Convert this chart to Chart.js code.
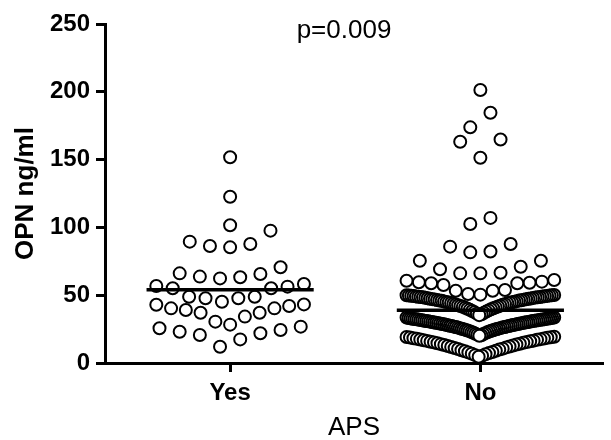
<!DOCTYPE html>
<html>
<head>
<meta charset="utf-8">
<script src="https://cdn.jsdelivr.net/npm/chart.js@4.4.1/dist/chart.umd.min.js"></script>
<style>
  html, body { margin: 0; padding: 0; background: #fff; }
  canvas { display: block; }
</style>
</head>
<body>
<canvas id="opn_aps" width="611" height="440"></canvas>
<script>
// Groups on the x axis
const groups = ['Yes', 'No'];
const x_title = 'APS';
const y_title = 'OPN ng/ml';
const p_text = 'p=0.009';

// OPN (ng/ml), APS = Yes
const opn_yes = [
  151.7, 122.6, 101.6, 97.6,
  87.8, 85.3, 86.3, 89.5,
  70.6, 65.6, 63.2, 62.4, 63.7, 66.1,
  56.8, 55.1, 55.1, 56.3, 58.3,
  48.9, 47.7, 45.2, 47.7, 48.9,
  43.0, 40.3, 39.1, 37.1, 30.5, 28.3, 34.2, 37.1, 40.3, 42.0, 43.2,
  25.6, 23.1, 20.6, 12.0, 17.4, 21.9, 24.3, 26.8
];

// OPN (ng/ml), APS = No
const opn_no = [
  201.3, 184.6, 173.8, 163.2, 164.8, 151.4,
  107.0, 102.5, 87.8, 85.8, 82.2, 81.6,
  75.4, 75.4, 71.0, 69.1, 66.6, 66.1, 66.1,
  61.2, 60.7, 60.0, 59.5, 59.2, 58.8, 58.8, 57.5, 53.8, 53.3, 53.3, 50.9, 50.4,
  50.1, 50.0, 49.9, 49.8, 49.7, 49.6, 49.5, 49.4, 49.3, 49.1,
  49.0, 48.9, 48.7, 48.6, 48.5, 48.4, 48.3, 48.1, 48.0, 47.8,
  47.6, 47.4, 47.3, 47.1, 47.0, 46.9, 46.7, 46.5, 46.3, 46.1,
  46.0, 45.9, 45.6, 45.4, 45.2, 45.0, 44.8, 44.7, 44.5, 44.2,
  44.0, 43.7, 43.4, 43.2, 42.9, 42.6, 42.3, 42.0, 41.7, 41.4,
  41.0, 40.7, 40.3, 40.0, 39.6, 39.2, 38.8, 38.4, 37.9, 37.5,
  37.0, 36.4, 35.9, 35.3,
  33.6, 33.5, 33.3, 33.2, 33.0, 32.9, 32.8, 32.7, 32.6, 32.5,
  32.3, 32.2, 32.1, 32.0, 31.9, 31.7, 31.6, 31.5, 31.4, 31.2,
  31.1, 31.0, 30.9, 30.7, 30.6, 30.5, 30.3, 30.2, 30.1, 29.9,
  29.8, 29.7, 29.5, 29.4, 29.2, 29.1, 28.9, 28.8, 28.6, 28.5,
  28.3, 28.2, 28.0, 27.8, 27.7, 27.5, 27.3, 27.2, 27.0, 26.8,
  26.6, 26.5, 26.3, 26.1, 25.9, 25.7, 25.5, 25.3, 25.1, 24.9,
  24.7, 24.4, 24.2, 24.0, 23.7, 23.5, 23.2, 22.9, 22.6, 22.3,
  22.0, 21.6, 21.3, 20.9, 20.5, 20.1,
  19.4, 19.2, 19.0, 18.8, 18.6, 18.3, 18.1, 17.8, 17.6, 17.3,
  17.1, 16.8, 16.5, 16.3, 16.0, 15.7, 15.4, 15.2, 14.9, 14.6,
  14.2, 13.9, 13.6, 13.3, 12.9, 12.5, 12.2, 11.8, 11.5, 11.0,
  10.6, 10.3, 9.9, 9.4, 9.0, 8.7, 8.1, 7.8, 7.3, 6.9,
  6.4, 5.8, 5.3, 4.6
];

const FONT = '"Liberation Sans", Arial, Helvetica, sans-serif';

// column scatter layout (rows of close values, spread sideways)
const ROW_H = 15;      // value units per row
const MAX_STEP = 20.5; // px between neighbours
const ROW_SPAN = 150;  // px, widest row
const LINE_HALF = 0.334;

function mean(arr) {
  return arr.reduce((s, v) => s + v, 0) / arr.length;
}

function columnScatter(values, center, xScale) {
  const sorted = [...values].sort((a, b) => a - b);
  const rows = [];
  let row = null;
  for (const v of sorted) {
    if (!row || v >= row.start + ROW_H) {
      row = {start: v, vals: []};
      rows.push(row);
    }
    row.vals.push(v);
  }
  const cx = xScale.getPixelForValue(center);
  const pts = [];
  rows.forEach(r => {
    const n = r.vals.length;
    const step = n > 1 ? Math.min(MAX_STEP, ROW_SPAN / (n - 1)) : 0;
    const rowPts = r.vals.map((v, i) => {
      let slot;
      if (n % 2) {
        slot = i === 0 ? 0 : Math.ceil(i / 2) * (i % 2 ? -1 : 1);
      } else {
        slot = (Math.floor(i / 2) + 0.5) * (i % 2 ? 1 : -1);
      }
      return {x: xScale.getValueForPixel(cx + slot * step), y: v};
    });
    // outer points first so inner ones sit on top
    pts.push(...rowPts.reverse());
  });
  return pts;
}

function meanLine(values, center) {
  const m = mean(values);
  return [{x: center - LINE_HALF, y: m}, {x: center + LINE_HALF, y: m}];
}

const pValuePlugin = {
  id: 'pValue',
  afterDraw(chart) {
    const {ctx, scales: {x, y}} = chart;
    ctx.save();
    ctx.font = '26px ' + FONT;
    ctx.fillStyle = '#000';
    ctx.textAlign = 'center';
    ctx.textBaseline = 'middle';
    ctx.fillText(p_text, x.getPixelForValue(1.455), y.getPixelForValue(245));
    ctx.restore();
  }
};

const pointStyle = {
  type: 'scatter',
  pointStyle: 'circle',
  pointRadius: 6,
  pointHoverRadius: 6,
  borderWidth: 2,
  borderColor: '#000',
  backgroundColor: '#fff',
  order: 1
};

const lineStyle = {
  type: 'line',
  borderColor: '#000',
  borderWidth: 3.5,
  pointRadius: 0,
  fill: false,
  order: 0
};

const chart = new Chart(document.getElementById('opn_aps'), {
  type: 'scatter',
  data: {
    datasets: [
      {...lineStyle, label: 'mean Yes', data: meanLine(opn_yes, 1)},
      {...lineStyle, label: 'mean No', data: meanLine(opn_no, 2)},
      {...pointStyle, label: groups[0], data: []},
      {...pointStyle, label: groups[1], data: []}
    ]
  },
  options: {
    responsive: false,
    animation: false,
    devicePixelRatio: 1,
    events: [],
    layout: {padding: {top: 24, right: 0, bottom: 0, left: 0}},
    plugins: {
      legend: {display: false},
      tooltip: {enabled: false}
    },
    scales: {
      x: {
        type: 'linear',
        min: 0.5,
        max: 2.49,
        afterBuildTicks: scale => {
          scale.ticks = groups.map((g, i) => ({value: i + 1}));
        },
        afterFit: scale => { scale.height = 77; },
        ticks: {
          callback: v => groups[v - 1],
          color: '#000',
          padding: 7,
          font: {family: FONT, size: 24, weight: 'bold'}
        },
        grid: {
          drawOnChartArea: false,
          tickLength: 9,
          tickWidth: 3,
          tickColor: '#000'
        },
        border: {display: true, width: 3, color: '#000'},
        title: {
          display: true,
          text: x_title,
          color: '#000',
          padding: 0,
          font: {family: FONT, size: 26, lineHeight: 0.9}
        }
      },
      y: {
        min: 0,
        max: 250,
        afterFit: scale => { scale.width = 105; },
        ticks: {
          stepSize: 50,
          color: '#000',
          padding: 6,
          font: {family: FONT, size: 24, weight: 'bold'}
        },
        grid: {
          drawOnChartArea: false,
          tickLength: 9,
          tickWidth: 3,
          tickColor: '#000'
        },
        border: {display: true, width: 3, color: '#000'},
        title: {
          display: true,
          text: y_title,
          color: '#000',
          padding: {top: 13, bottom: 0},
          font: {family: FONT, size: 26, weight: 'bold', lineHeight: 1}
        }
      }
    }
  },
  plugins: [pValuePlugin]
});

chart.data.datasets[2].data = columnScatter(opn_yes, 1, chart.scales.x);
chart.data.datasets[3].data = columnScatter(opn_no, 2, chart.scales.x);
chart.update('none');
</script>
</body>
</html>
